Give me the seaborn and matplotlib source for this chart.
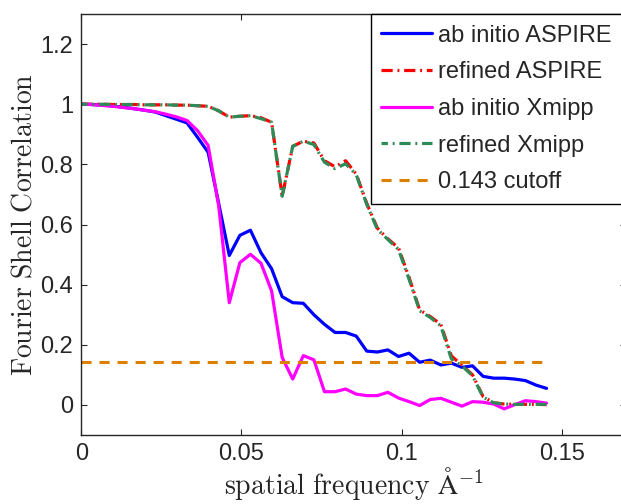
import matplotlib
matplotlib.use('Agg')
import matplotlib.pyplot as plt
import seaborn as sns
import pandas as pd

# frequency bins (1/Angstrom)
freq = [0.0, 0.0033, 0.0066, 0.0099, 0.0132, 0.0165, 0.0198, 0.0231, 0.0264, 0.0297,
        0.033, 0.0363, 0.0396, 0.0429, 0.0462, 0.0495, 0.0528, 0.0561, 0.0594, 0.0627,
        0.066, 0.0693, 0.0726, 0.0759, 0.0792, 0.0825, 0.0858, 0.0891, 0.0924, 0.0957,
        0.099, 0.1023, 0.1056, 0.1089, 0.1122, 0.1155, 0.1188, 0.1221, 0.1254, 0.1287,
        0.132, 0.1353, 0.1386, 0.1419, 0.1452]

abinitio_aspire = [1.0, 0.999, 0.997, 0.994, 0.99, 0.985, 0.98, 0.974, 0.962, 0.95,
                   0.938, 0.89, 0.84, 0.67, 0.497, 0.564, 0.581, 0.506, 0.453, 0.36,
                   0.34, 0.338, 0.30, 0.268, 0.241, 0.241, 0.229, 0.179, 0.176, 0.183,
                   0.161, 0.172, 0.142, 0.149, 0.133, 0.139, 0.125, 0.130, 0.095, 0.089,
                   0.089, 0.086, 0.081, 0.066, 0.055]

refined_aspire = [1.0, 1.0, 1.0, 0.999, 0.999, 0.999, 0.998, 0.998, 0.998, 0.997,
                  0.997, 0.995, 0.993, 0.978, 0.957, 0.96, 0.962, 0.955, 0.94, 0.694,
                  0.86, 0.877, 0.871, 0.812, 0.792, 0.812, 0.768, 0.67, 0.588, 0.552,
                  0.522, 0.424, 0.316, 0.294, 0.268, 0.163, 0.132, 0.10, 0.028, 0.007,
                  0.003, 0.002, 0.002, 0.002, 0.001]

abinitio_xmipp = [1.0, 0.999, 0.996, 0.993, 0.989, 0.985, 0.98, 0.975, 0.967, 0.958,
                  0.946, 0.912, 0.863, 0.661, 0.34, 0.473, 0.501, 0.471, 0.379, 0.158,
                  0.086, 0.164, 0.150, 0.044, 0.044, 0.053, 0.036, 0.031, 0.031, 0.042,
                  0.023, 0.011, -0.002, 0.018, 0.022, 0.009, -0.004, 0.011, 0.009, 0.003,
                  -0.013, 0.001, 0.014, 0.011, 0.006]

refined_xmipp = [1.0, 1.0, 1.0, 0.999, 0.999, 0.999, 0.998, 0.998, 0.998, 0.997,
                 0.997, 0.995, 0.993, 0.978, 0.957, 0.96, 0.962, 0.952, 0.94, 0.694,
                 0.86, 0.877, 0.866, 0.807, 0.786, 0.802, 0.766, 0.667, 0.584, 0.55,
                 0.517, 0.418, 0.313, 0.291, 0.263, 0.153, 0.130, 0.097, 0.026, 0.007,
                 0.003, 0.002, 0.002, 0.002, 0.002]

cutoff = 0.143

sns.set_style('ticks')
plt.rcParams['font.family'] = ['Liberation Sans', 'DejaVu Sans']
plt.rcParams['mathtext.fontset'] = 'cm'
plt.rcParams['xtick.direction'] = 'in'
plt.rcParams['ytick.direction'] = 'in'

fig = plt.figure(figsize=(6.21, 5.04), dpi=100)
# axes runs a little past the right edge of the figure, like the original
ax = fig.add_axes([0.1308, 0.1369, 0.8773, 0.8353])

df = pd.DataFrame({'freq': freq, 'aa': abinitio_aspire, 'ra': refined_aspire,
                   'ax': abinitio_xmipp, 'rx': refined_xmipp})

sns.lineplot(data=df, x='freq', y='aa', ax=ax, color='#0000ff', lw=2.3,
             label='ab initio ASPIRE')
sns.lineplot(data=df, x='freq', y='ra', ax=ax, color='#ff0000', lw=2.3,
             linestyle=(0, (3.5, 1.5, 0.6, 1.5)), label='refined ASPIRE')
sns.lineplot(data=df, x='freq', y='ax', ax=ax, color='#ff00ff', lw=2.3,
             label='ab initio Xmipp')
sns.lineplot(data=df, x='freq', y='rx', ax=ax, color='#2e8b57', lw=2.3,
             linestyle=(1.5, (3.5, 1.5, 0.6, 1.5)), label='refined Xmipp')
ax.plot([freq[0], freq[-1]], [cutoff, cutoff], color='#dd8000', lw=2.2,
        linestyle=(0, (3.3, 2.6)), label='0.143 cutoff')

ax.set_xlim(0, 0.17)
ax.set_ylim(-0.1, 1.3)
ax.set_xticks([0, 0.05, 0.1, 0.15])
ax.set_xticklabels(['0', '0.05', '0.1', '0.15'])
ax.set_yticks([0, 0.2, 0.4, 0.6, 0.8, 1.0, 1.2])
ax.set_yticklabels(['0', '0.2', '0.4', '0.6', '0.8', '1', '1.2'])
ax.tick_params(labelsize=17, top=True, right=True, length=4, width=0.8, pad=6)
for s in ax.spines.values():
    s.set_linewidth(1.0)

ax.set_xlabel(r'$\mathrm{spatial\ frequency\ \AA}^{-1}$', fontsize=20, labelpad=0)
ax.set_ylabel(r'$\mathrm{Fourier\ Shell\ Correlation}$', fontsize=20, labelpad=2)

leg = ax.legend(loc='upper right', bbox_to_anchor=(0.993, 1.0), fontsize=17,
                borderaxespad=0, fancybox=False, edgecolor='black', framealpha=1,
                handlelength=2.15, labelspacing=0.62, handletextpad=0.25,
                borderpad=0.45)
leg.get_frame().set_linewidth(1.0)

fig.savefig('out.png', dpi=100)
